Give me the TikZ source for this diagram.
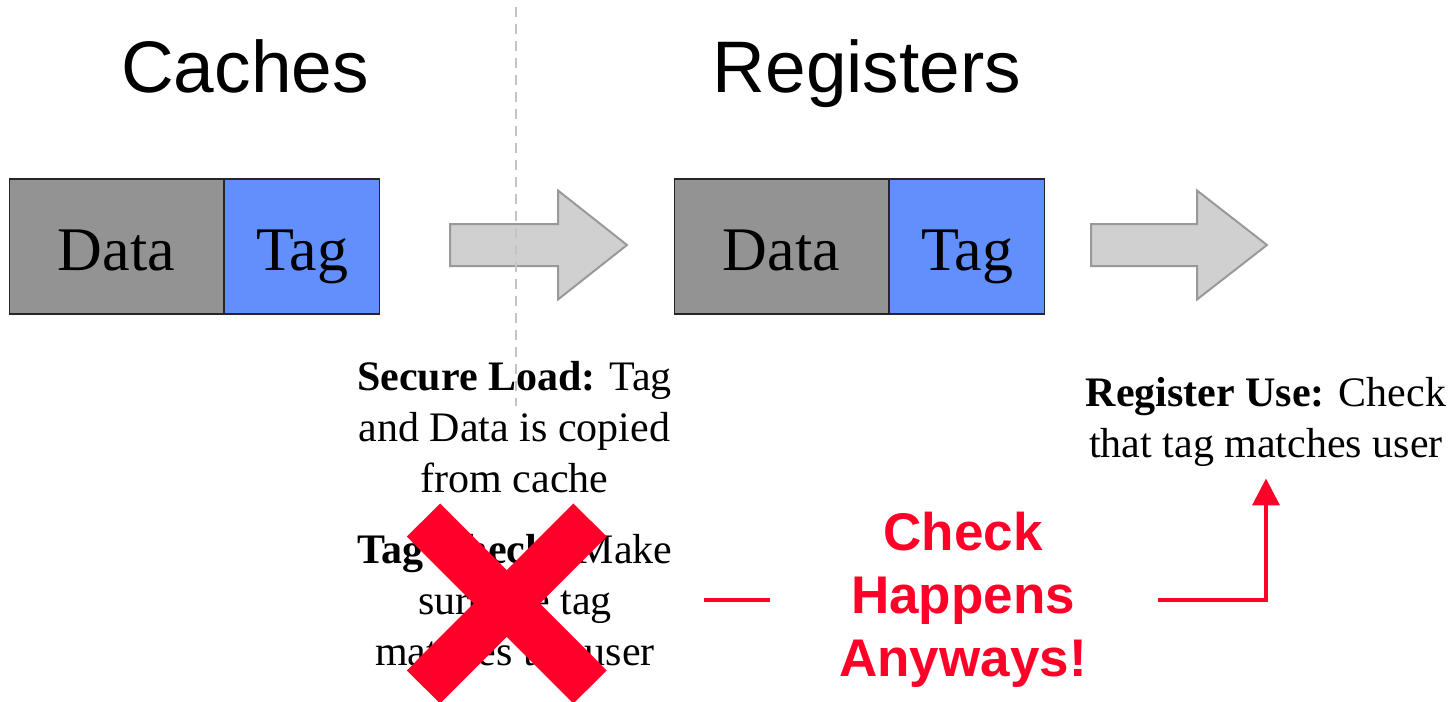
\documentclass[tikz,border=0pt]{standalone}
\usepackage{fontspec}
\setmainfont{Liberation Serif}
\newfontfamily\arial{Liberation Sans}
\usetikzlibrary{arrows.meta}
\definecolor{cellgray}{RGB}{147,147,147}
\definecolor{cellblue}{RGB}{97,143,252}
\definecolor{arrowfill}{RGB}{208,208,208}
\definecolor{arrowline}{RGB}{153,153,153}
\definecolor{alertred}{RGB}{255,0,41}
\definecolor{divider}{RGB}{196,196,196}
\begin{document}
\begin{tikzpicture}[x=0.5pt,y=-0.5pt,
  title/.style={font=\arial\fontsize{36.5}{40}\selectfont, anchor=base, inner sep=0pt},
  cell/.style={draw=black!85, line width=0.6pt, minimum height=67.5pt, inner sep=0pt,
    text height=23.5pt, text depth=0pt, font=\fontsize{31}{34}\selectfont},
  datacell/.style={cell, fill=cellgray, minimum width=107pt},
  tagcell/.style={cell, fill=cellblue, minimum width=77.5pt},
  flow/.style={fill=arrowfill, draw=arrowline, line width=1pt},
  note/.style={align=center, font=\fontsize{21}{25.5}\selectfont, inner sep=0pt, anchor=base},
  alert/.style={align=center, text=alertred, font=\arial\bfseries\fontsize{26.5}{31.5}\selectfont, inner sep=0pt},
  redline/.style={draw=alertred, line width=2pt},
  cross/.style={draw=alertred, line width=23.5pt},
  splitline/.style={draw=divider, line width=1pt, dash pattern=on 5pt off 3.5pt}
]
\useasboundingbox (0,0) rectangle (1453,702);

% section titles
\node[title] (tcache) at (245,92) {Caches};
\node[title] (treg) at (867,92) {Registers};

% cache line and register contents
\node[datacell] (cdata) at (116.5,246.5) {Data};
\node[tagcell, anchor=west] (ctag) at (cdata.east) {Tag};
\node[datacell] (rdata) at (781.5,246.5) {Data};
\node[tagcell, anchor=west] (rtag) at (rdata.east) {Tag};

% block arrows
\path[flow] (450,224) -- (558,224) -- (558,190.5) -- (627,245) -- (558,299.5)
  -- (558,266) -- (450,266) -- cycle;
\path[flow] (1091,224) -- (1197,224) -- (1197,190.5) -- (1267,245) -- (1197,299.5)
  -- (1197,266) -- (1091,266) -- cycle;

% descriptions (anchored at the baseline of their last line)
\node[note] (load) at (514.5,492) {\textbf{Secure Load:} Tag\\and Data is copied\\from cache};
\node[note] (tcheck) at (515,665) {\textbf{Tag Check:} Make\\sure the tag\\matches the user};
\node[note] (ruse) at (1266,457) {\textbf{Register Use:} Check\\that tag matches user};

% divider between the two stages
\draw[splitline] (516,7) -- (516,406);

% struck-out check
\draw[cross] (423.5,520) -- (590,687);
\draw[cross] (590,520) -- (423.5,687);

% the check still happens at register use
\node[alert] (alert) at (963,600) {Check\\Happens\\Anyways!};
\draw[redline] ([xshift=-34.5pt]alert.west) -- ++(-66,0);
\draw[redline, -{Triangle[length=13.5pt,width=13.5pt]}, shorten >=6pt]
  ([xshift=35.5pt]alert.east) -| (ruse.south);
\end{tikzpicture}
\end{document}
